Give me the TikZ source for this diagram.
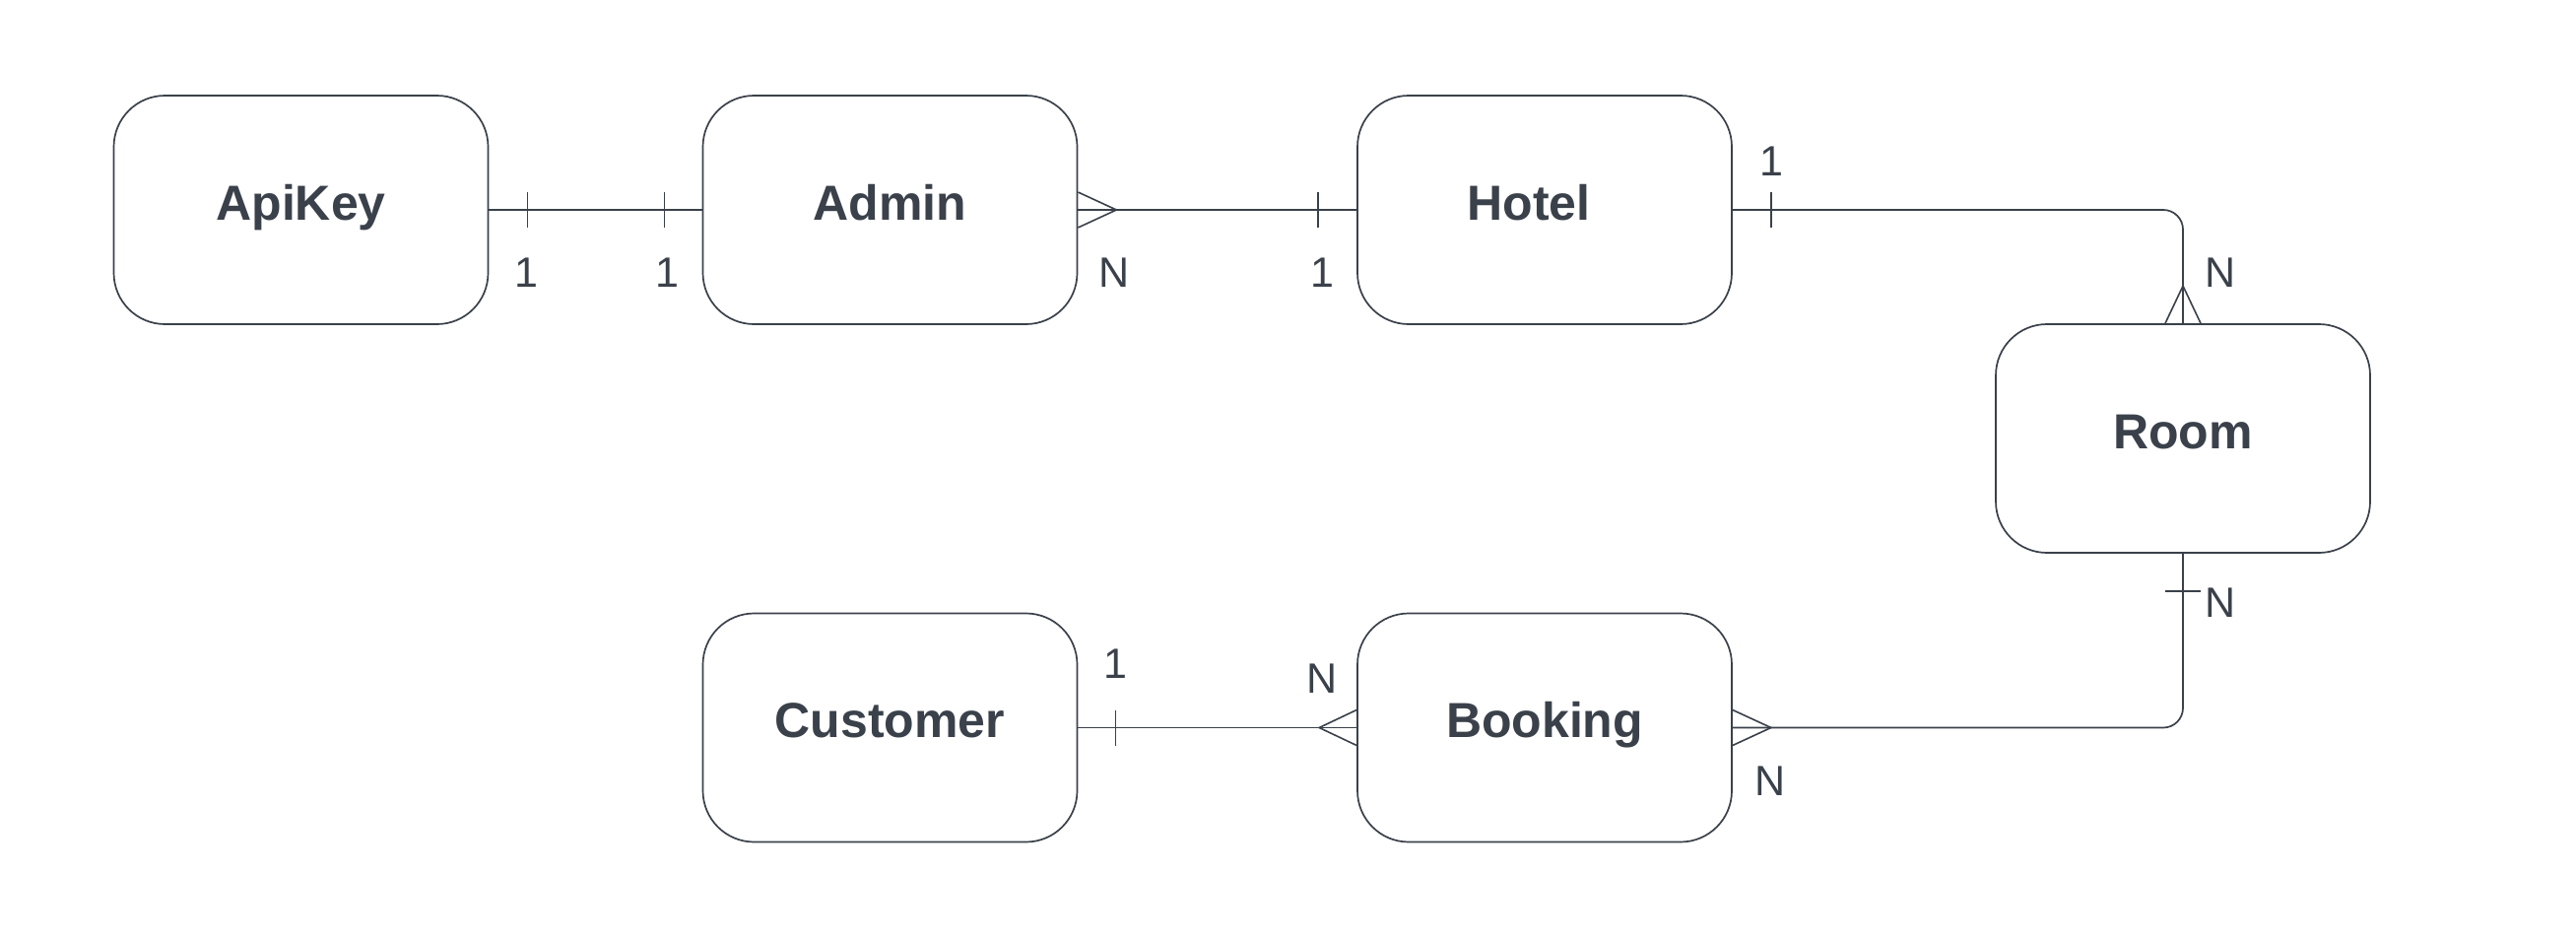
\documentclass[tikz,border=0pt]{standalone}
\usepackage{fontspec}
\setmainfont{Liberation Sans}
\definecolor{ink}{HTML}{3A414A}
\tikzset{
  entity/.style={draw=ink, line width=1.7pt, rounded corners=52pt,
    minimum width=380pt, minimum height=232pt, inner sep=0pt,
    text=ink, font=\fontsize{50}{60}\selectfont\bfseries,
    text height=40pt, text depth=20pt},
  rel/.style={draw=ink, line width=1.7pt},
  endmark/.style={draw=ink, line width=1.6pt},
  card/.style={text=ink, font=\fontsize{43}{50}\selectfont, anchor=base, inner sep=0pt}
}
\begin{document}
\begin{tikzpicture}[x=1pt,y=-1pt]
\useasboundingbox[fill=white] (0,0) rectangle (2615,953);
% entities
\node[entity] (apikey)   at (305.5,213)  {ApiKey};
\node[entity] (admin)    at (903.5,213)  {Admin};
\node[entity] (hotel)    at (1568,213)   {\kern-32pt Hotel};
\node[entity] (room)     at (2216,445)   {Room};
\node[entity] (customer) at (903.5,738.5) {Customer};
\node[entity] (booking)  at (1568,738.5) {Booking};
% ApiKey -- Admin (1:1)
\draw[rel] (apikey.east) -- (admin.west);
\draw[endmark] ([xshift=39pt,yshift=18pt]apikey.east) -- ([xshift=39pt,yshift=-18pt]apikey.east);
\draw[endmark] ([xshift=-38pt,yshift=18pt]admin.west) -- ([xshift=-38pt,yshift=-18pt]admin.west);
\node[card] (l1) at (534,291) {1};
\node[card] (l2) at (677,291) {1};
% Admin -- Hotel (N:1)
\draw[rel] (admin.east) -- (hotel.west);
\draw[endmark] ([yshift=18pt]admin.east) -- ([xshift=39pt]admin.east) -- ([yshift=-18pt]admin.east);
\draw[endmark] ([xshift=-39pt,yshift=18pt]hotel.west) -- ([xshift=-39pt,yshift=-18pt]hotel.west);
\node[card] (l3) at (1131,291) {N};
\node[card] (l4) at (1342,291) {1};
% Hotel -- Room (1:N)
\draw[rel, rounded corners=20pt] (hotel.east) -| (room.north);
\draw[endmark] ([xshift=39pt,yshift=18pt]hotel.east) -- ([xshift=39pt,yshift=-18pt]hotel.east);
\draw[endmark] ([xshift=-18pt]room.north) -- ([yshift=38pt]room.north) -- ([xshift=18pt]room.north);
\node[card] (l5) at (1798,178) {1};
\node[card] (l6) at (2254,291) {N};
% Room -- Booking (N:N)
\draw[rel, rounded corners=20pt] (room.south) |- (booking.east);
\draw[endmark] ([xshift=-18pt,yshift=-38pt]room.south) -- ([xshift=18pt,yshift=-38pt]room.south);
\draw[endmark] ([yshift=18pt]booking.east) -- ([xshift=39pt]booking.east) -- ([yshift=-18pt]booking.east);
\node[card] (l7) at (2254,626) {N};
\node[card] (l8) at (1797,807) {N};
% Customer -- Booking (1:N)
\draw[rel] (customer.east) -- (booking.west);
\draw[endmark] ([xshift=38pt,yshift=18pt]customer.east) -- ([xshift=38pt,yshift=-18pt]customer.east);
\draw[endmark] ([yshift=18pt]booking.west) -- ([xshift=-38pt]booking.west) -- ([yshift=-18pt]booking.west);
\node[card] (l9) at (1132,688) {1};
\node[card] (l10) at (1342,703) {N};
\end{tikzpicture}
\end{document}
